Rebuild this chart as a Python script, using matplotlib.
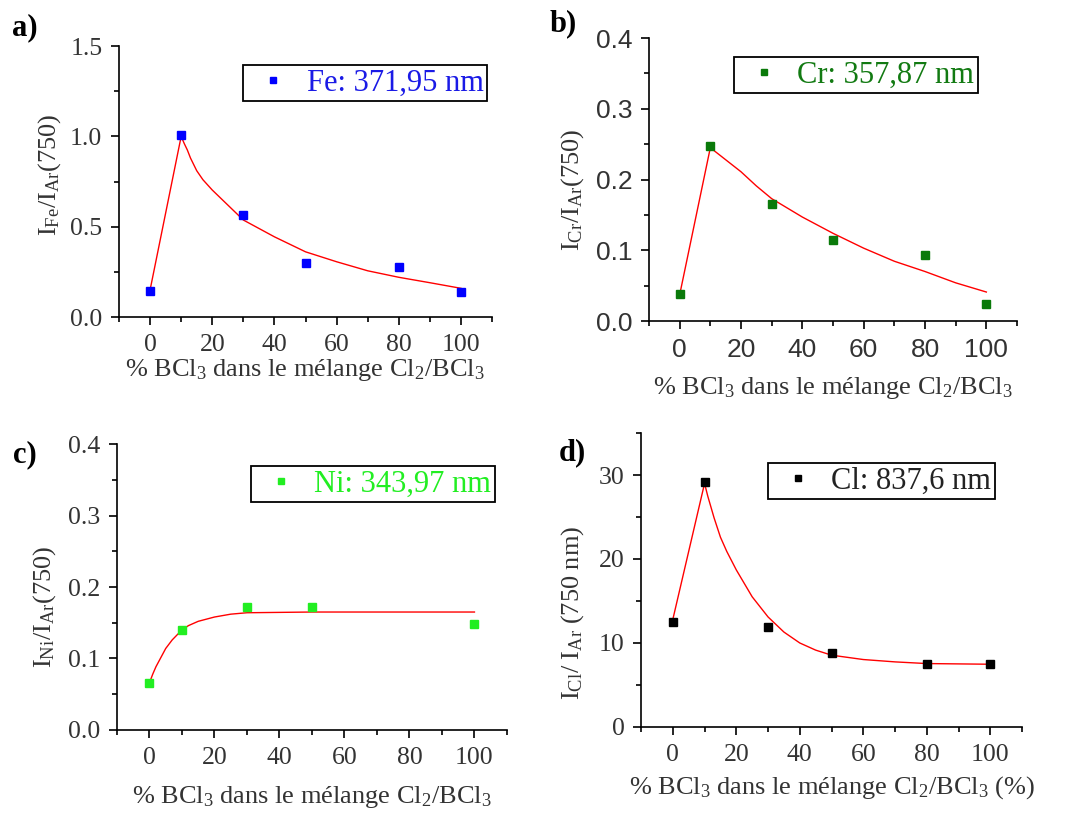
import matplotlib
matplotlib.use('Agg')
import matplotlib.pyplot as plt
from matplotlib.ticker import MultipleLocator, FormatStrFormatter

plt.rcParams['font.family'] = ['Liberation Serif', 'DejaVu Serif']
plt.rcParams['mathtext.fontset'] = 'custom'
plt.rcParams['mathtext.rm'] = 'Liberation Serif'
plt.rcParams['mathtext.it'] = 'Liberation Serif:italic'

# % BCl3 in the Cl2/BCl3 mixture
bcl3 = [0, 10, 30, 50, 80, 100]
bcl3_ni = [0, 10, 30, 50, 100]

# measured intensity ratios
fe = [0.146, 1.005, 0.565, 0.297, 0.278, 0.137]
cr = [0.0376, 0.2476, 0.166, 0.115, 0.094, 0.0235]
ni = [0.066, 0.140, 0.172, 0.172, 0.148]
cl = [12.5, 29.2, 11.85, 8.75, 7.47, 7.44]

# fitted curves
fe_fit_x = [0, 10, 11, 12, 13, 15, 17, 20, 25, 30, 40, 50, 60, 70, 80, 90, 100]
fe_fit_y = [0.15, 1.0, 0.96, 0.924, 0.88, 0.81, 0.76, 0.703, 0.62, 0.537, 0.444, 0.361, 0.306, 0.256, 0.22, 0.19, 0.159]
cr_fit_x = [0, 10, 15, 20, 25, 30, 40, 50, 60, 70, 80, 90, 100]
cr_fit_y = [0.037, 0.245, 0.228, 0.211, 0.191, 0.173, 0.147, 0.124, 0.103, 0.0845, 0.070, 0.054, 0.041]
ni_fit_x = [0, 1, 2, 3, 5, 7, 10, 12, 15, 20, 25, 30, 50, 100]
ni_fit_y = [0.066, 0.078, 0.0885, 0.097, 0.114, 0.126, 0.140, 0.146, 0.152, 0.158, 0.162, 0.164, 0.165, 0.165]
cl_fit_x = [0, 10, 11, 12, 13, 15, 17, 20, 25, 30, 35, 40, 45, 50, 60, 70, 80, 100]
cl_fit_y = [12.8, 29.0, 27.5, 26.2, 24.9, 22.6, 20.9, 18.7, 15.5, 13.1, 11.3, 10.0, 9.15, 8.55, 8.03, 7.75, 7.55, 7.47]

xlabel = '% BCl$_3$ dans le mélange Cl$_2$/BCl$_3$'

fig = plt.figure(figsize=(10.72, 8.15), dpi=100)


def panel(rect, x, y, fx, fy, color, txtcolor, label, ylim, ymaj, ymin, yfmt,
          ylab, xlab, leg_anchor, xlab_pos, ylab_pos, tick_family, tick_size):
    ax = fig.add_axes(rect)
    ax.plot(fx, fy, color='#ff0000', lw=1.0, zorder=2)
    ax.plot(x, y, 's', color=color, ms=5.5, label=label, zorder=3)
    ax.set_xlim(-10, 110)
    ax.set_ylim(*ylim)
    ax.spines['top'].set_visible(False)
    ax.spines['right'].set_visible(False)
    for s in ('left', 'bottom'):
        ax.spines[s].set_linewidth(1.2)
    ax.xaxis.set_major_locator(MultipleLocator(20))
    ax.xaxis.set_minor_locator(MultipleLocator(10))
    ax.yaxis.set_major_locator(MultipleLocator(ymaj))
    ax.yaxis.set_minor_locator(MultipleLocator(ymin))
    ax.yaxis.set_major_formatter(FormatStrFormatter(yfmt))
    ax.tick_params(which='major', direction='out', length=6, width=1.2,
                   labelsize=tick_size, labelcolor='#333333', pad=6)
    ax.tick_params(which='minor', direction='out', length=3.5, width=1.2)
    for t in ax.get_xticklabels() + ax.get_yticklabels():
        t.set_family(tick_family)
    ax.set_xlabel(xlab, fontsize=19, color='#333333')
    ax.xaxis.label.set_va('center')
    ax.xaxis.set_label_coords(*xlab_pos)
    ax.set_ylabel(ylab, fontsize=19, color='#333333')
    ax.yaxis.label.set_va('center')
    ax.yaxis.set_label_coords(*ylab_pos)
    leg = ax.legend(loc='upper right', bbox_to_anchor=leg_anchor, borderaxespad=0,
                    fancybox=False, edgecolor='black', framealpha=1, numpoints=1,
                    fontsize=22, labelcolor=txtcolor, handlelength=1.7,
                    handletextpad=0.25, borderpad=0.12, markerscale=0.85)
    leg.get_frame().set_linewidth(1.3)
    return ax


panel([0.111, 0.611, 0.348, 0.3325], bcl3, fe, fe_fit_x, fe_fit_y, '#0000ff', '#1a1ae6',
      'Fe: 371,95 nm', (0, 1.5), 0.5, 0.25, '%.1f',
      r'$\mathregular{I_{Fe}/I_{Ar}(750)}$', xlabel, (0.987, 0.93),
      (0.499, -0.196), (-0.185, 0.524), ['Liberation Serif'], 18.5)

panel([0.6054, 0.6061, 0.3433, 0.3472], bcl3, cr, cr_fit_x, cr_fit_y, '#0a7a0a', '#127a12',
      'Cr: 357,87 nm', (0, 0.4), 0.1, 0.05, '%.1f',
      r'$\mathregular{I_{Cr}/I_{Ar}(750)}$', xlabel, (0.894, 0.933),
      (0.5, -0.237), (-0.207, 0.463), ['Liberation Sans'], 19)

panel([0.1091, 0.1043, 0.3638, 0.3509], bcl3_ni, ni, ni_fit_x, ni_fit_y, '#22ee22', '#22ee22',
      'Ni: 343,97 nm', (0, 0.4), 0.1, 0.05, '%.1f',
      r'$\mathregular{I_{Ni}/I_{Ar}(750)}$', xlabel, (0.969, 0.923),
      (0.5, -0.234), (-0.185, 0.43), ['Liberation Serif'], 18.5)

panel([0.598, 0.108, 0.3554, 0.3607], bcl3, cl, cl_fit_x, cl_fit_y, '#000000', '#222222',
      'Cl: 837,6 nm', (0, 35), 10, 5, '%d',
      r'$\mathregular{I_{Cl}/\ I_{Ar}\ (750\ nm)}$', xlabel + ' (%)', (0.929, 0.898),
      (0.501, -0.207), (-0.181, 0.388), ['Liberation Serif'], 18.5)

for txt, px, py in [('a)', 0.023, 0.9656), ('b)', 0.525, 0.9706),
                    ('c)', 0.023, 0.4417), ('d)', 0.5336, 0.4442)]:
    fig.text(px, py, txt, fontsize=22, fontweight='bold', ha='center', va='center')

fig.savefig('out.png', dpi=100)
